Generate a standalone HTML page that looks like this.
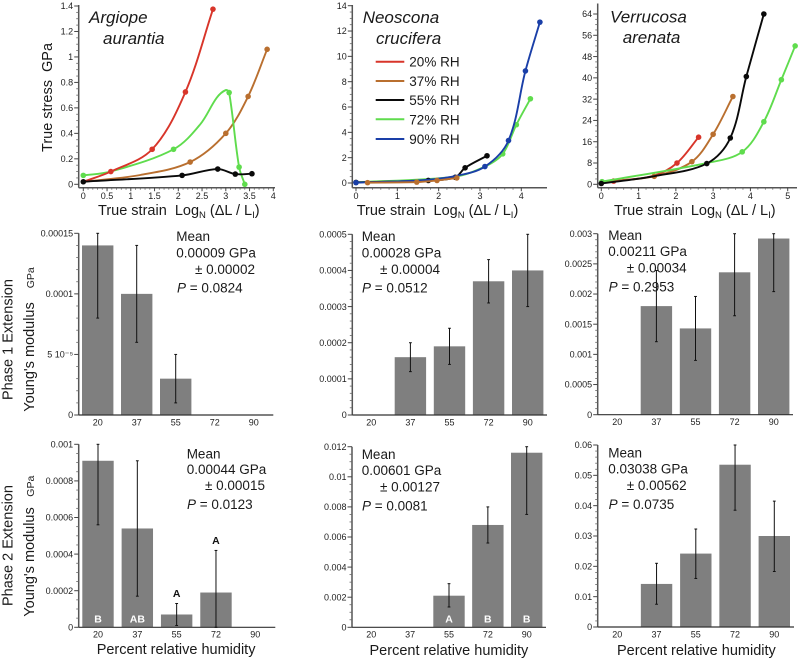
<!DOCTYPE html>
<html lang="en">
<head>
<meta charset="utf-8">
<title>Silk true stress and Young's modulus by relative humidity</title>
<style>
html,body{margin:0;padding:0;background:#fff;}
svg{display:block;}
text{font-family:"Liberation Sans",Arial,sans-serif;fill:#1a1a1a;white-space:pre;}
.t{font-size:9px;fill:#222;}
.lab{font-size:14.5px;}
.sp{font-size:17px;font-style:italic;}
.st{font-size:13.5px;}
.leg{font-size:13.5px;}
.sub{font-size:9.5px;}
</style>
</head>
<body>
<svg id="fig" xmlns="http://www.w3.org/2000/svg" width="800" height="660" viewBox="0 0 800 660">
<rect width="800" height="660" fill="#fff"/>
<g id="marks"></g>

<text class="lab" transform="translate(52,152) rotate(-90)">True stress  GPa</text>
<text class="lab" x="98" y="215">True strain  Log<tspan class="sub" dy="3">N</tspan><tspan dy="-3"> (ΔL / L</tspan><tspan class="sub" dy="3">I</tspan><tspan dy="-3">)</tspan></text>
<text class="lab" x="356.7" y="215">True strain  Log<tspan class="sub" dy="3">N</tspan><tspan dy="-3"> (ΔL / L</tspan><tspan class="sub" dy="3">I</tspan><tspan dy="-3">)</tspan></text>
<text class="lab" x="614" y="215">True strain  Log<tspan class="sub" dy="3">N</tspan><tspan dy="-3"> (ΔL / L</tspan><tspan class="sub" dy="3">I</tspan><tspan dy="-3">)</tspan></text>

<text class="sp" x="89" y="23">Argiope</text>
<text class="sp" x="103" y="44">aurantia</text>
<text class="sp" x="362.7" y="23">Neoscona</text>
<text class="sp" x="376" y="44">crucifera</text>
<text class="sp" x="610" y="22.5">Verrucosa</text>
<text class="sp" x="622.7" y="43">arenata</text>

<g>
<line x1="375.7" x2="404.3" y1="61.7" y2="61.7" stroke="#d8352a" stroke-width="2"/>
<text class="leg" x="409.3" y="66.5">20% RH</text>
<line x1="375.7" x2="404.3" y1="81" y2="81" stroke="#b96f2f" stroke-width="2"/>
<text class="leg" x="409.3" y="86">37% RH</text>
<line x1="375.7" x2="404.3" y1="100" y2="100" stroke="#0a0a0a" stroke-width="2"/>
<text class="leg" x="409.3" y="105">55% RH</text>
<line x1="375.7" x2="404.3" y1="119.3" y2="119.3" stroke="#5fdc4d" stroke-width="2"/>
<text class="leg" x="409.3" y="124.3">72% RH</text>
<line x1="375.7" x2="404.3" y1="139" y2="139" stroke="#1a3fa8" stroke-width="2"/>
<text class="leg" x="409.3" y="144">90% RH</text>
</g>

<text class="lab" transform="translate(12.5,400) rotate(-90)">Phase 1 Extension</text>
<text class="lab" transform="translate(34,411.7) rotate(-90)">Young's modulus</text>
<text font-size="10.5" transform="translate(34,288.3) rotate(-90)">GPa</text>
<text class="lab" transform="translate(12.5,606) rotate(-90)">Phase 2 Extension</text>
<text class="lab" transform="translate(34,616.7) rotate(-90)">Young's modulus</text>
<text font-size="10.5" transform="translate(34,496.7) rotate(-90)">GPa</text>

<text class="lab" x="96.7" y="654">Percent relative humidity</text>
<text class="lab" x="369.5" y="655">Percent relative humidity</text>
<text class="lab" x="617" y="655">Percent relative humidity</text>

<g>
<text class="st" x="176.3" y="241">Mean</text><text class="st" x="176.3" y="257.3">0.00009 GPa</text><text class="st" x="195" y="274">± 0.00002</text><text class="st" x="177" y="292.7"><tspan font-style="italic">P</tspan> = 0.0824</text>
</g>
<g>
<text class="st" x="361.7" y="241">Mean</text><text class="st" x="361.7" y="257.3">0.00028 GPa</text><text class="st" x="380" y="274">± 0.00004</text><text class="st" x="362" y="292.7"><tspan font-style="italic">P</tspan> = 0.0512</text>
</g>
<g>
<text class="st" x="608.3" y="240">Mean</text><text class="st" x="608.3" y="256">0.00211 GPa</text><text class="st" x="626.7" y="272.7">± 0.00034</text><text class="st" x="608.6" y="291.7"><tspan font-style="italic">P</tspan> = 0.2953</text>
</g>
<g>
<text class="st" x="186.7" y="458.3">Mean</text><text class="st" x="186.7" y="474">0.00044 GPa</text><text class="st" x="205" y="490">± 0.00015</text><text class="st" x="187" y="509"><tspan font-style="italic">P</tspan> = 0.0123</text>
</g>
<g>
<text class="st" x="361.7" y="459">Mean</text><text class="st" x="361.7" y="475">0.00601 GPa</text><text class="st" x="380" y="491.7">± 0.00127</text><text class="st" x="362" y="510.7"><tspan font-style="italic">P</tspan> = 0.0081</text>
</g>
<g>
<text class="st" x="608.3" y="457.7">Mean</text><text class="st" x="608.3" y="473.3">0.03038 GPa</text><text class="st" x="626.7" y="490">± 0.00562</text><text class="st" x="608.6" y="509"><tspan font-style="italic">P</tspan> = 0.0735</text>
</g>
</svg>

<script>
// ---- Shared categories ----
const humidityCategories = ['20', '37', '55', '72', '90'];

// ---- Stress-strain: Argiope aurantia ----
const argStrainTicks = [0, 0.5, 1, 1.5, 2, 2.5, 3, 3.5, 4];
const argStrainLabels = ['0', '0.5', '1', '1.5', '2', '2.5', '3', '3.5', '4'];
const argStressTicks = [0, 0.2, 0.4, 0.6, 0.8, 1, 1.2, 1.4];
const argStressLabels = ['0', '0.2', '0.4', '0.6', '0.8', '1', '1.2', '1.4'];
const argRedStrain = [0, 0.58, 1.45, 2.15, 2.73];
const argRedStress = [0.02, 0.1, 0.275, 0.725, 1.375];
const argRedDots = [1, 2, 3, 4];
const argBrownStrain = [0, 1.2, 2.25, 3, 3.47, 3.87];
const argBrownStress = [0.02, 0.073, 0.175, 0.4, 0.69, 1.06];
const argBrownDots = [2, 3, 4, 5];
const argGreenStrain = [0, 0.58, 1.9, 2.46, 2.81, 3, 3.07, 3.28, 3.4];
const argGreenStress = [0.07, 0.1, 0.275, 0.47, 0.68, 0.74, 0.72, 0.135, 0];
const argGreenDots = [0, 2, 6, 7, 8];
const argBlackStrain = [0, 2.08, 2.83, 3.2, 3.55];
const argBlackStress = [0.02, 0.07, 0.12, 0.08, 0.083];

// ---- Stress-strain: Neoscona crucifera ----
const neoStrainTicks = [0, 1, 2, 3, 4];
const neoStrainLabels = ['0', '1', '2', '3', '4'];
const neoStressTicks = [0, 2, 4, 6, 8, 10, 12, 14];
const neoStressLabels = ['0', '2', '4', '6', '8', '10', '12', '14'];
const neoGreenStrain = [0, 2.4, 3.12, 3.55, 3.88, 4.22];
const neoGreenStress = [0.05, 0.5, 1.3, 2.3, 4.6, 6.65];
const neoGreenDots = [3, 4, 5];
const neoBlackStrain = [0, 1.75, 2.4, 2.64, 3.17];
const neoBlackStress = [0.05, 0.2, 0.45, 1.2, 2.15];
const neoBlueStrain = [0, 1.5, 2.4, 3.12, 3.69, 4.1, 4.45];
const neoBlueStress = [0.03, 0.2, 0.55, 1.3, 3.35, 8.85, 12.7];
const neoBlueDots = [0, 3, 4, 5, 6];
const neoBrownStrain = [0.28, 1.47, 1.96, 2.44];
const neoBrownStress = [0.03, 0.07, 0.2, 0.4];

// ---- Stress-strain: Verrucosa arenata ----
const verStrainTicks = [0, 1, 2, 3, 4, 5];
const verStrainLabels = ['0', '1', '2', '3', '4', '5'];
const verStressTicks = [0, 8, 16, 24, 32, 40, 48, 56, 64];
const verStressLabels = ['0', '8', '16', '24', '32', '40', '48', '56', '64'];
const verRedStrain = [0.33, 1.4, 2.03, 2.61];
const verRedStress = [1.2, 3.2, 8, 17.7];
const verRedDots = [0, 2, 3];
const verBrownStrain = [0, 1.42, 2.43, 3, 3.53];
const verBrownStress = [0.9, 3, 8.5, 18.8, 33];
const verBrownDots = [1, 2, 3, 4];
const verGreenStrain = [0.02, 2.83, 3.78, 4.36, 4.83, 5.2];
const verGreenStress = [1, 8, 12.2, 23.5, 39.3, 52];
const verGreenDots = [0, 2, 3, 4, 5];
const verBlackStrain = [0, 1.4, 2.83, 3.46, 3.89, 4.36];
const verBlackStress = [0.3, 3, 7.8, 17.4, 40.5, 64];
const verBlackDots = [0, 2, 3, 4, 5];

// ---- Bars: Phase 1 ----
const p1ArgTicks = [0, 0.00005, 0.0001, 0.00015];
const p1ArgLabels = ['0', '5 10⁻⁵', '0.0001', '0.00015'];
const p1ArgValues = [0.00014, 0.0001, 0.00003, null, null];
const p1ArgLow = [0.00008, 0.00006, 0.00001, null, null];
const p1ArgHigh = [0.00015, 0.00014, 0.00005, null, null];

const p1NeoTicks = [0, 0.0001, 0.0002, 0.0003, 0.0004, 0.0005];
const p1NeoLabels = ['0', '0.0001', '0.0002', '0.0003', '0.0004', '0.0005'];
const p1NeoValues = [null, 0.00016, 0.00019, 0.00037, 0.0004];
const p1NeoLow = [null, 0.00012, 0.00014, 0.00031, 0.0003];
const p1NeoHigh = [null, 0.0002, 0.00024, 0.00043, 0.0005];

const p1VerTicks = [0, 0.0005, 0.001, 0.0015, 0.002, 0.0025, 0.003];
const p1VerLabels = ['0', '0.0005', '0.001', '0.0015', '0.002', '0.0025', '0.003'];
const p1VerValues = [null, 0.0018, 0.00143, 0.00236, 0.00292];
const p1VerLow = [null, 0.00121, 0.0009, 0.00164, 0.00204];
const p1VerHigh = [null, 0.00239, 0.00196, 0.003, 0.003];

// ---- Bars: Phase 2 ----
const p2ArgTicks = [0, 0.0002, 0.0004, 0.0006, 0.0008, 0.001];
const p2ArgLabels = ['0', '0.0002', '0.0004', '0.0006', '0.0008', '0.001'];
const p2ArgValues = [0.00091, 0.00054, 0.00007, 0.00019, null];
const p2ArgLow = [0.00056, 0.00017, 0.00001, 0, null];
const p2ArgHigh = [0.001, 0.00091, 0.00013, 0.00042, null];
const p2ArgInside = ['B', 'AB', '', '', ''];
const p2ArgAbove = ['', '', 'A', 'A', ''];

const p2NeoTicks = [0, 0.002, 0.004, 0.006, 0.008, 0.01, 0.012];
const p2NeoLabels = ['0', '0.002', '0.004', '0.006', '0.008', '0.01', '0.012'];
const p2NeoValues = [null, null, 0.0021, 0.0068, 0.0116];
const p2NeoLow = [null, null, 0.00135, 0.0056, 0.0075];
const p2NeoHigh = [null, null, 0.0029, 0.008, 0.012];
const p2NeoInside = ['', '', 'A', 'B', 'B'];

const p2VerTicks = [0, 0.01, 0.02, 0.03, 0.04, 0.05, 0.06];
const p2VerLabels = ['0', '0.01', '0.02', '0.03', '0.04', '0.05', '0.06'];
const p2VerValues = [null, 0.0142, 0.0242, 0.0535, 0.03];
const p2VerLow = [null, 0.0075, 0.016, 0.0385, 0.0183];
const p2VerHigh = [null, 0.021, 0.0323, 0.06, 0.0415];

const RED = '#d8352a', BROWN = '#b96f2f', BLACK = '#0a0a0a', GREEN = '#5fdc4d', BLUE = '#1a3fa8';
const NS = 'http://www.w3.org/2000/svg';
const root = document.getElementById('marks');

function mk(tag, attrs, parent) {
  const el = document.createElementNS(NS, tag);
  for (const k in attrs) el.setAttribute(k, attrs[k]);
  parent.appendChild(el);
  return el;
}
function linear(d0, d1, r0, r1) {
  return v => r0 + (v - d0) * (r1 - r0) / (d1 - d0);
}
function smoothPath(pts) {
  const tan = pts.map((p, i) => {
    const a = pts[Math.max(i - 1, 0)], b = pts[Math.min(i + 1, pts.length - 1)];
    const dx = b[0] - a[0], dy = b[1] - a[1], m = Math.hypot(dx, dy) || 1;
    return [dx / m, dy / m];
  });
  let d = 'M' + pts[0][0].toFixed(2) + ' ' + pts[0][1].toFixed(2);
  for (let i = 0; i < pts.length - 1; i++) {
    const p = pts[i], q = pts[i + 1], s = Math.hypot(q[0] - p[0], q[1] - p[1]) / 3;
    d += 'C' + (p[0] + tan[i][0] * s).toFixed(2) + ' ' + (p[1] + tan[i][1] * s).toFixed(2) + ' ' +
         (q[0] - tan[i + 1][0] * s).toFixed(2) + ' ' + (q[1] - tan[i + 1][1] * s).toFixed(2) + ' ' +
         q[0].toFixed(2) + ' ' + q[1].toFixed(2);
  }
  return d;
}

function drawYAxis(g, box, ticks, labels, sy, minors) {
  const axis = mk('line', {x1: box.left, x2: box.left, y1: box.top, y2: box.bottom, stroke: '#555', 'stroke-width': 1.5}, g);
  
  
  ticks.forEach((t, i) => {
    const y = sy(t);
    const tick = mk('line', {x1: box.left - 4.5, x2: box.left, y1: y, y2: y, stroke: '#444', 'stroke-width': 1}, g);
    
    
    const label = mk('text', {x: box.left - 5.5, y: y + 3.2, 'text-anchor': 'end', class: 't'}, g);
    label.textContent = labels[i];
    
    
    if (i < ticks.length - 1) {
      for (let m = 1; m < minors; m++) {
        const my = sy(t + (ticks[i + 1] - t) * m / minors);
        const minor = mk('line', {x1: box.left - 2.5, x2: box.left, y1: my, y2: my, stroke: '#666', 'stroke-width': 0.8}, g);
        
        
      }
    }
  });
}

function drawLinePanel(cfg) {
  const g = mk('g', {}, root);
  
  
  const b = cfg.box;
  const sx = linear(cfg.xTicks[0], cfg.xTicks[cfg.xTicks.length - 1], b.x0, b.x1);
  const sy = linear(cfg.yTicks[0], cfg.yTicks[cfg.yTicks.length - 1], b.y0, b.y1);
  drawYAxis(g, b, cfg.yTicks, cfg.yLabels, sy, cfg.yMinors);
  const xAxis = mk('line', {x1: b.left, x2: b.right, y1: b.bottom, y2: b.bottom, stroke: '#555', 'stroke-width': 1.5}, g);
  
  
  cfg.xTicks.forEach((t, i) => {
    const x = sx(t);
    const tick = mk('line', {x1: x, x2: x, y1: b.bottom, y2: b.bottom + 3.5, stroke: '#444', 'stroke-width': 1}, g);
    
    
    const label = mk('text', {x: x, y: b.bottom + 11.5, 'text-anchor': 'middle', class: 't'}, g);
    label.textContent = cfg.xLabels[i];
    
    
    if (i < cfg.xTicks.length - 1) {
      for (let m = 1; m < cfg.xMinors; m++) {
        const mx = sx(t + (cfg.xTicks[i + 1] - t) * m / cfg.xMinors);
        const minor = mk('line', {x1: mx, x2: mx, y1: b.bottom, y2: b.bottom + 2, stroke: '#666', 'stroke-width': 0.8}, g);
        
        
      }
    }
  });
  cfg.series.forEach(s => {
    const pts = s.strain.map((v, i) => [sx(v), sy(s.stress[i])]);
    const line = mk('path', {d: smoothPath(pts), fill: 'none', stroke: s.color, 'stroke-width': 1.9, 'stroke-linejoin': 'round'}, g);
    
    
    pts.forEach((p, i) => {
      if (s.dots && s.dots.indexOf(i) < 0) return;
      const dot = mk('circle', {cx: p[0], cy: p[1], r: 2.8, fill: s.color}, g);
      
      
    });
  });
}

function drawBarPanel(cfg) {
  const g = mk('g', {}, root);
  
  
  const b = cfg.box;
  const sy = linear(cfg.yTicks[0], cfg.yTicks[cfg.yTicks.length - 1], b.bottom, b.top);
  const step = (b.c1 - b.c0) / (humidityCategories.length - 1);
  const cx = i => b.c0 + i * step;
  cfg.values.forEach((v, i) => {
    if (v === null) return;
    const bar = mk('rect', {x: cx(i) - 15.7, y: sy(v), width: 31.4, height: b.bottom - sy(v), fill: '#7f7f7f'}, g);
    
    
  });
  drawYAxis(g, b, cfg.yTicks, cfg.yLabels, sy, cfg.yMinors);
  const xAxis = mk('line', {x1: b.left, x2: b.right, y1: b.bottom, y2: b.bottom, stroke: '#333', 'stroke-width': 1.2}, g);
  
  
  humidityCategories.forEach((c, i) => {
    const label = mk('text', {x: cx(i), y: b.bottom + 10.3, 'text-anchor': 'middle', class: 't'}, g);
    label.textContent = c;
    
    
  });
  cfg.values.forEach((v, i) => {
    if (v === null) return;
    const x = cx(i), lo = sy(cfg.low[i]), hi = sy(cfg.high[i]);
    const err = mk('line', {x1: x, x2: x, y1: lo, y2: hi, stroke: '#111', 'stroke-width': 1}, g);
    
    
    [lo, hi].forEach(y => {
      const cap = mk('line', {x1: x - 1.4, x2: x + 1.4, y1: y, y2: y, stroke: '#111', 'stroke-width': 1}, g);
      
      
    });
  });
  (cfg.inside || []).forEach((s, i) => {
    if (!s) return;
    const t = mk('text', {x: cx(i), y: b.bottom - 5, 'text-anchor': 'middle', 'font-size': 10.5, 'font-weight': 'bold', style: 'fill:#fff'}, g);
    t.textContent = s;
    
    
  });
  (cfg.above || []).forEach((s, i) => {
    if (!s) return;
    const t = mk('text', {x: cx(i), y: sy(cfg.high[i]) - 6.5, 'text-anchor': 'middle', 'font-size': 10.5, 'font-weight': 'bold', style: 'fill:#111'}, g);
    t.textContent = s;
    
    
  });
}

drawLinePanel({
  name: 'stress-strain-argiope', xTicks: argStrainTicks, xLabels: argStrainLabels, yTicks: argStressTicks, yLabels: argStressLabels,
  xMinors: 5, yMinors: 4,
  box: {left: 78.7, right: 275, top: 5, bottom: 187.7, x0: 83.3, x1: 273.3, y0: 184.3, y1: 6},
  series: [
    {rh: '37', color: BROWN, strain: argBrownStrain, stress: argBrownStress, dots: argBrownDots},
    {rh: '72', color: GREEN, strain: argGreenStrain, stress: argGreenStress, dots: argGreenDots},
    {rh: '20', color: RED, strain: argRedStrain, stress: argRedStress, dots: argRedDots},
    {rh: '55', color: BLACK, strain: argBlackStrain, stress: argBlackStress}
  ]
});
drawLinePanel({
  name: 'stress-strain-neoscona', xTicks: neoStrainTicks, xLabels: neoStrainLabels, yTicks: neoStressTicks, yLabels: neoStressLabels,
  xMinors: 5, yMinors: 4,
  box: {left: 352.3, right: 547, top: 5, bottom: 187.7, x0: 356, x1: 521.3, y0: 183, y1: 5.7},
  series: [
    {rh: '72', color: GREEN, strain: neoGreenStrain, stress: neoGreenStress, dots: neoGreenDots},
    {rh: '55', color: BLACK, strain: neoBlackStrain, stress: neoBlackStress},
    {rh: '90', color: BLUE, strain: neoBlueStrain, stress: neoBlueStress, dots: neoBlueDots},
    {rh: '37', color: BROWN, strain: neoBrownStrain, stress: neoBrownStress}
  ]
});
drawLinePanel({
  name: 'stress-strain-verrucosa', xTicks: verStrainTicks, xLabels: verStrainLabels, yTicks: verStressTicks, yLabels: verStressLabels,
  xMinors: 5, yMinors: 4,
  box: {left: 597.7, right: 797, top: 3.5, bottom: 187.7, x0: 601.3, x1: 787.7, y0: 184.3, y1: 14},
  series: [
    {rh: '20', color: RED, strain: verRedStrain, stress: verRedStress, dots: verRedDots},
    {rh: '37', color: BROWN, strain: verBrownStrain, stress: verBrownStress, dots: verBrownDots},
    {rh: '72', color: GREEN, strain: verGreenStrain, stress: verGreenStress, dots: verGreenDots},
    {rh: '55', color: BLACK, strain: verBlackStrain, stress: verBlackStress, dots: verBlackDots}
  ]
});

drawBarPanel({
  name: 'modulus-phase-1-argiope', yTicks: p1ArgTicks, yLabels: p1ArgLabels, yMinors: 5,
  values: p1ArgValues, low: p1ArgLow, high: p1ArgHigh,
  box: {left: 78.7, right: 273.3, top: 233.3, bottom: 415, c0: 97.7, c1: 253.7}
});
drawBarPanel({
  name: 'modulus-phase-1-neoscona', yTicks: p1NeoTicks, yLabels: p1NeoLabels, yMinors: 5,
  values: p1NeoValues, low: p1NeoLow, high: p1NeoHigh,
  box: {left: 352.3, right: 547, top: 234.3, bottom: 415, c0: 371.3, c1: 527.7}
});
drawBarPanel({
  name: 'modulus-phase-1-verrucosa', yTicks: p1VerTicks, yLabels: p1VerLabels, yMinors: 5,
  values: p1VerValues, low: p1VerLow, high: p1VerHigh,
  box: {left: 597.7, right: 793, top: 233.7, bottom: 414.7, c0: 617.3, c1: 773.7}
});
drawBarPanel({
  name: 'modulus-phase-2-argiope', yTicks: p2ArgTicks, yLabels: p2ArgLabels, yMinors: 4,
  values: p2ArgValues, low: p2ArgLow, high: p2ArgHigh, inside: p2ArgInside, above: p2ArgAbove,
  box: {left: 78.7, right: 275.3, top: 444.3, bottom: 627.3, c0: 98, c1: 255.3}
});
drawBarPanel({
  name: 'modulus-phase-2-neoscona', yTicks: p2NeoTicks, yLabels: p2NeoLabels, yMinors: 4,
  values: p2NeoValues, low: p2NeoLow, high: p2NeoHigh, inside: p2NeoInside,
  box: {left: 352, right: 546, top: 446.7, bottom: 627.3, c0: 371.3, c1: 526.7}
});
drawBarPanel({
  name: 'modulus-phase-2-verrucosa', yTicks: p2VerTicks, yLabels: p2VerLabels, yMinors: 5,
  values: p2VerValues, low: p2VerLow, high: p2VerHigh,
  box: {left: 597.7, right: 794, top: 445, bottom: 627, c0: 617.3, c1: 774.3}
});
</script>
</body>
</html>
